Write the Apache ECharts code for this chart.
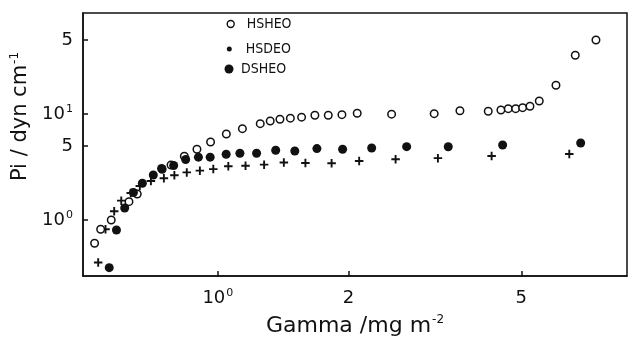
<!DOCTYPE html>
<html>
<head>
<meta charset="utf-8">
<style>
  html, body { margin: 0; padding: 0; background: #ffffff; }
  #chart { width: 632px; height: 339px; }
</style>
<script src="https://cdn.jsdelivr.net/npm/echarts@6/dist/echarts.min.js"></script>
</head>
<body>
<div id="chart"></div>
<script>
// ---- data ----
const seriesNames = ['HSHEO', 'HSDEO', 'DSHEO'];

const hsheoX = [0.520, 0.537, 0.568, 0.624, 0.652, 0.744, 0.780, 0.837, 0.895, 0.962, 1.046, 1.139, 1.252, 1.320, 1.390, 1.469, 1.559, 1.673, 1.796, 1.931, 2.094, 2.513, 3.150, 3.611, 4.196, 4.488, 4.666, 4.853, 5.036, 5.236, 5.500, 6.010, 6.658, 7.43];
const hsheoY = [0.603, 0.817, 1.00, 1.488, 1.759, 3.008, 3.303, 3.99, 4.645, 5.44, 6.48, 7.27, 8.10, 8.59, 8.91, 9.13, 9.33, 9.72, 9.72, 9.85, 10.15, 9.96, 10.07, 10.72, 10.60, 10.91, 11.22, 11.22, 11.47, 11.82, 13.27, 18.66, 35.8, 49.9];

const hsdeoX = [0.530, 0.551, 0.577, 0.599, 0.630, 0.661, 0.701, 0.751, 0.794, 0.848, 0.909, 0.976, 1.057, 1.158, 1.278, 1.419, 1.591, 1.828, 2.116, 2.567, 3.213, 4.272, 6.450];
const hsdeoY = [0.397, 0.817, 1.208, 1.521, 1.798, 2.093, 2.333, 2.474, 2.641, 2.812, 2.918, 3.021, 3.211, 3.246, 3.325, 3.487, 3.449, 3.427, 3.603, 3.738, 3.828, 4.016, 4.195];

const dsheoX = [0.562, 0.584, 0.610, 0.639, 0.670, 0.710, 0.742, 0.791, 0.843, 0.902, 0.960, 1.045, 1.124, 1.228, 1.359, 1.504, 1.691, 1.938, 2.261, 2.722, 3.394, 4.529, 6.851];
const dsheoY = [0.355, 0.805, 1.298, 1.818, 2.220, 2.658, 3.061, 3.268, 3.722, 3.913, 3.913, 4.168, 4.259, 4.259, 4.545, 4.477, 4.716, 4.645, 4.778, 4.915, 4.904, 5.10, 5.33];

// tick values and their printed labels
const xTickValues = [1, 2, 5];
const xTickLabels = ['10^0', '2', '5'];
const yTickValues = [1, 5, 10, 50];
const yTickLabels = ['10^0', '5', '10^1', '5'];

const xRange = [0.489, 8.76];
const yRange = [0.296, 89.7];

// ---- helpers ----
function pairs(xs, ys) { return xs.map((x, i) => [x, ys[i]]); }
function makeFormatter(values, labels) {
  return function (v) {
    let idx = -1;
    for (let i = 0; i < values.length; i++) {
      if (Math.abs(values[i] - v) / values[i] < 1e-6) { idx = i; }
    }
    if (idx < 0) return '';
    const t = labels[idx];
    if (t.indexOf('^') >= 0) {
      const p = t.split('^');
      return '{b|' + p[0] + '}{s|' + p[1] + '}';
    }
    return '{b|' + t + '}';
  };
}

const FONT = 'DejaVu Sans';
const INK = '#111111';
const labelRich = {
  b: { fontFamily: FONT, fontSize: 18, color: INK, lineHeight: 20 },
  s: { fontFamily: FONT, fontSize: 11, color: INK, verticalAlign: 'top', lineHeight: 20, padding: [0, 0, 6, 1] }
};

const plusPath = 'path://M3.5,0H5.5V3.5H9V5.5H5.5V9H3.5V5.5H0V3.5H3.5Z';

const chart = echarts.init(document.getElementById('chart'), null, { renderer: 'canvas' });

function legendText(padLeft) {
  return { fontFamily: 'DejaVu Sans Condensed', fontSize: 14, color: INK, padding: [0, 0, 0, padLeft] };
}

const option = {
  backgroundColor: '#ffffff',
  animation: false,
  grid: {
    left: 83, right: 5, top: 13, bottom: 63,
    containLabel: false,
    outerBoundsMode: 'none',
    show: true, borderColor: INK, borderWidth: 1.5, backgroundColor: 'transparent'
  },
  legend: [
    {
      data: [{ name: seriesNames[0], icon: 'circle' }],
      left: 226.5, top: 17, padding: 0, itemWidth: 7, itemHeight: 7,
      selectedMode: false, textStyle: legendText(7.5),
      itemStyle: { color: '#ffffff', borderColor: INK, borderWidth: 1.4 }
    },
    {
      data: [{ name: seriesNames[1], icon: 'circle' }],
      left: 226.8, top: 42, padding: 0, itemWidth: 5, itemHeight: 5,
      selectedMode: false, textStyle: legendText(9),
      itemStyle: { color: INK, borderWidth: 0 }
    },
    {
      data: [{ name: seriesNames[2], icon: 'circle' }],
      left: 224.5, top: 62, padding: 0, itemWidth: 9, itemHeight: 9,
      selectedMode: false, textStyle: legendText(2.5),
      itemStyle: { color: INK, borderWidth: 0 }
    }
  ],
  xAxis: {
    type: 'log',
    logBase: 10,
    min: xRange[0],
    max: xRange[1],
    name: '{a|Gamma /mg m}{s|-2}',
    nameLocation: 'middle',
    nameGap: 38,
    nameTextStyle: {
      rich: {
        a: { fontFamily: FONT, fontSize: 22, color: INK, lineHeight: 24 },
        s: { fontFamily: FONT, fontSize: 12, color: INK, verticalAlign: 'top', lineHeight: 24, padding: [0, 0, 8, 1] }
      }
    },
    axisLine: { show: true, lineStyle: { color: INK, width: 1.5 } },
    axisTick: { show: true, inside: true, length: 5, customValues: xTickValues, lineStyle: { color: INK, width: 1.5 } },
    minorTick: { show: false },
    axisLabel: { show: true, margin: 12, customValues: xTickValues, formatter: makeFormatter(xTickValues, xTickLabels), rich: labelRich },
    splitLine: { show: false }
  },
  yAxis: {
    type: 'log',
    logBase: 10,
    min: yRange[0],
    max: yRange[1],
    name: '{a|Pi / dyn cm}{s|-1}',
    nameLocation: 'middle',
    nameRotate: 90,
    nameGap: 42,
    nameTextStyle: {
      padding: [0, 0, 0, 56],
      rich: {
        a: { fontFamily: FONT, fontSize: 21, color: INK, lineHeight: 24 },
        s: { fontFamily: FONT, fontSize: 12, color: INK, verticalAlign: 'top', lineHeight: 24, padding: [0, 0, 8, 1] }
      }
    },
    axisLine: { show: true, lineStyle: { color: INK, width: 1.5 } },
    axisTick: { show: true, inside: true, length: 5, customValues: yTickValues, lineStyle: { color: INK, width: 1.5 } },
    minorTick: { show: false },
    axisLabel: { show: true, margin: 10, customValues: yTickValues, formatter: makeFormatter(yTickValues, yTickLabels), rich: labelRich },
    splitLine: { show: false }
  },
  series: [
    {
      name: seriesNames[0], type: 'scatter', data: pairs(hsheoX, hsheoY),
      symbol: 'circle', symbolSize: 7.5,
      itemStyle: { color: '#ffffff', borderColor: INK, borderWidth: 1.5, opacity: 1 },
      z: 3
    },
    {
      name: seriesNames[1], type: 'scatter', data: pairs(hsdeoX, hsdeoY),
      symbol: plusPath, symbolSize: 8.5,
      itemStyle: { color: INK, opacity: 1 },
      z: 2
    },
    {
      name: seriesNames[2], type: 'scatter', data: pairs(dsheoX, dsheoY),
      symbol: 'circle', symbolSize: 9,
      itemStyle: { color: INK, opacity: 1 },
      z: 4
    }
  ]
};

chart.setOption(option);
</script>
</body>
</html>
